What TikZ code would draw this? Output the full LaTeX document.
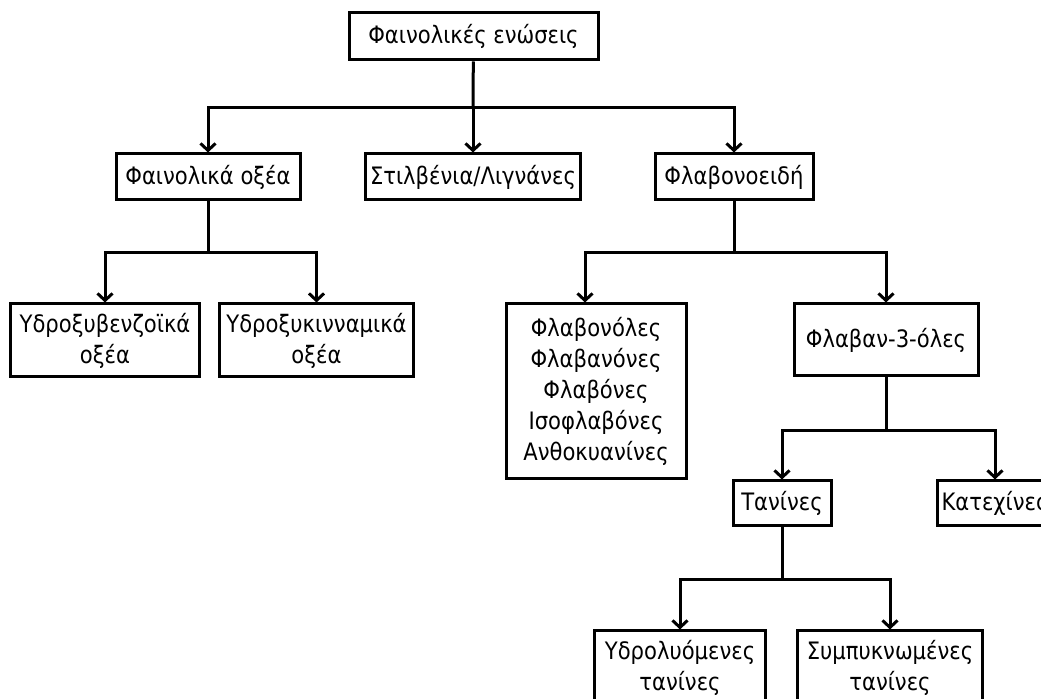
\documentclass[tikz,border=0pt]{standalone}
\usepackage{fontspec}
\setmainfont{DejaVu Sans}[FakeStretch=0.88]
\usetikzlibrary{arrows.meta,positioning}

\begin{document}
\begin{tikzpicture}[x=0.5pt, y=-0.5pt,
    box/.style={draw, line width=1.5pt, align=center, inner sep=1pt,
      font=\fontsize{12}{15.5}\selectfont},
    link/.style={line width=1.5pt},
    down/.style={link, -{Straight Barb[length=3.5pt,width=7.5pt]}}]
  % Frame
  \path[use as bounding box, clip] (0,0) rectangle (1041,699);
  % Top level
  \node[box, minimum width=124.5pt, minimum height=23.5pt] (phen) at (473.5,36.5) {Φαινολικές ενώσεις};
  % Second level
  \node[box, minimum width=92pt, minimum height=23pt] (acids) at (208,177) {Φαινολικά οξέα};
  \node[box, minimum width=107.5pt, minimum height=23pt] (stilb) at (473,177) {Στιλβένια/Λιγνάνες};
  \node[box, minimum width=79pt, minimum height=23pt] (flavo) at (734,177) {Φλαβονοειδή};
  % Phenolic acids
  \node[box, minimum width=94.5pt, minimum height=36.5pt] (hbenz) at (105,340.5) {Υδροξυβενζοϊκά\\ οξέα};
  \node[box, minimum width=97pt, minimum height=36.5pt] (hcinn) at (316.5,340.5) {Υδροξυκινναμικά\\ οξέα};
  % Flavonoids
  \node[box, minimum width=90pt, minimum height=87.5pt] (flavols) at (596,391.5) {Φλαβονόλες\\ Φλαβανόνες\\ Φλαβόνες\\ Ισοφλαβόνες\\ Ανθοκυανίνες};
  \node[box, minimum width=92pt, minimum height=36pt] (flavan) at (886,340) {Φλαβαν-3-όλες};
  \node[box, minimum width=49pt, minimum height=22.5pt] (tann) at (782,503.5) {Τανίνες};
  \node[box, minimum width=58pt, minimum height=22.5pt] (cat) at (995,503.5) {Κατεχίνες};
  % Tannins
  \node[box, minimum width=85.5pt, minimum height=36.5pt] (hydr) at (680,667.5) {Υδρολυόμενες\\ τανίνες};
  \node[box, minimum width=92.5pt, minimum height=36.5pt] (cond) at (890,667.5) {Συμπυκνωμένες\\ τανίνες};
  % Branch points
  \coordinate (j1) at (473,108);
  \coordinate (j2) at (208,253);
  \coordinate (j3) at (734,253);
  \coordinate (j4) at (886,431);
  \coordinate (j5) at (782,580);
  % Connectors
  \draw[link] (phen) -- (j1);
  \draw[down] (j1) -| (acids);
  \draw[down] (j1) -- (stilb);
  \draw[down] (j1) -| (flavo);
  \draw[link] (acids) -- (j2);
  \draw[down] (j2) -| (hbenz);
  \draw[down] (j2) -| (hcinn);
  \draw[link] (flavo) -- (j3);
  \draw[down] (j3) -| ([xshift=-5.5pt]flavols.north);
  \draw[down] (j3) -| (flavan);
  \draw[link] (flavan) -- (j4);
  \draw[down] (j4) -| (tann);
  \draw[down] (j4) -| (cat);
  \draw[link] (tann) -- (j5);
  \draw[down] (j5) -| (hydr);
  \draw[down] (j5) -| (cond);
\end{tikzpicture}
\end{document}
